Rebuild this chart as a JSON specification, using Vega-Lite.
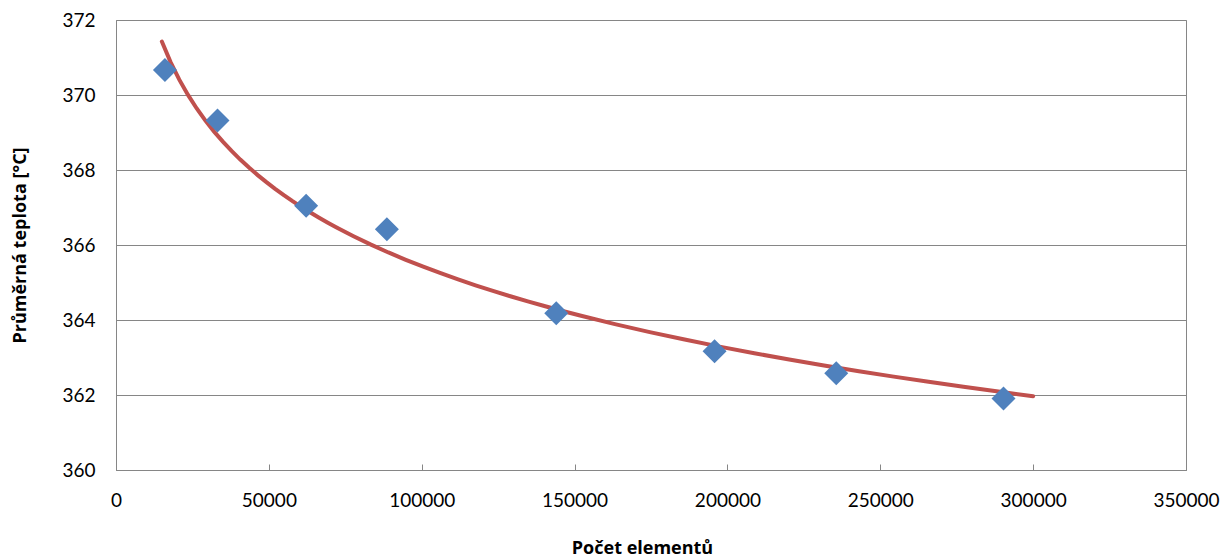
{
  "$schema": "https://vega.github.io/schema/vega-lite/v6.json",
  "width": 1070,
  "height": 450,
  "autosize": "none",
  "padding": {"left": 116, "top": 20, "right": 38, "bottom": 89},
  "background": "white",
  "config": {
    "view": {"stroke": "#868686", "strokeWidth": 1},
    "font": "Lato",
    "axis": {"labelFont": "Lato", "titleFont": "Open Sans", "labelColor": "#000000", "titleColor": "#000000", "domainColor": "#868686", "tickColor": "#868686", "gridColor": "#868686"}
  },
  "data": {
    "values": [
      {"elementy": 16000, "teplota": 370.67},
      {"elementy": 33200, "teplota": 369.32},
      {"elementy": 62200, "teplota": 367.05},
      {"elementy": 88600, "teplota": 366.42},
      {"elementy": 144000, "teplota": 364.18},
      {"elementy": 195800, "teplota": 363.17},
      {"elementy": 235600, "teplota": 362.58},
      {"elementy": 290300, "teplota": 361.91}
    ]
  },
  "layer": [
    {
      "transform": [
        {"regression": "teplota", "on": "elementy", "method": "log", "extent": [15000, 300000]}
      ],
      "mark": {"type": "line", "color": "#C0504D", "strokeWidth": 4, "strokeCap": "round", "clip": false},
      "encoding": {
        "x": {"field": "elementy", "type": "quantitative"},
        "y": {"field": "teplota", "type": "quantitative"}
      }
    },
    {
      "mark": {"type": "point", "shape": "diamond", "filled": true, "size": 576, "color": "#4F81BD", "opacity": 1},
      "encoding": {
        "x": {
          "field": "elementy",
          "type": "quantitative",
          "scale": {"domain": [0, 350000], "nice": false, "zero": false},
          "axis": {
            "title": "Počet elementů",
            "titleFontSize": 18,
            "titleFontWeight": "bold",
            "titleX": 526,
            "titleY": 78,
            "titleAlign": "center",
            "titleBaseline": "middle",
            "values": [0, 50000, 100000, 150000, 200000, 250000, 300000, 350000],
            "format": "d",
            "labelFontSize": 19,
            "labelPadding": 36,
            "labelBaseline": "middle",
            "tickSize": -6,
            "grid": false,
            "labelFlush": false,
            "labelOverlap": false
          }
        },
        "y": {
          "field": "teplota",
          "type": "quantitative",
          "scale": {"domain": [360, 372], "nice": false, "zero": false},
          "axis": {
            "title": "Průměrná teplota [°C]",
            "titleFontSize": 18,
            "titleFontWeight": "bold",
            "titleX": -96,
            "titleY": 225,
            "titleAngle": -90,
            "titleAlign": "center",
            "titleBaseline": "middle",
            "values": [360, 362, 364, 366, 368, 370, 372],
            "format": "d",
            "labelFontSize": 19,
            "labelPadding": 21,
            "tickSize": 0,
            "grid": true,
            "labelFlush": false,
            "labelOverlap": false
          }
        }
      }
    }
  ]
}
